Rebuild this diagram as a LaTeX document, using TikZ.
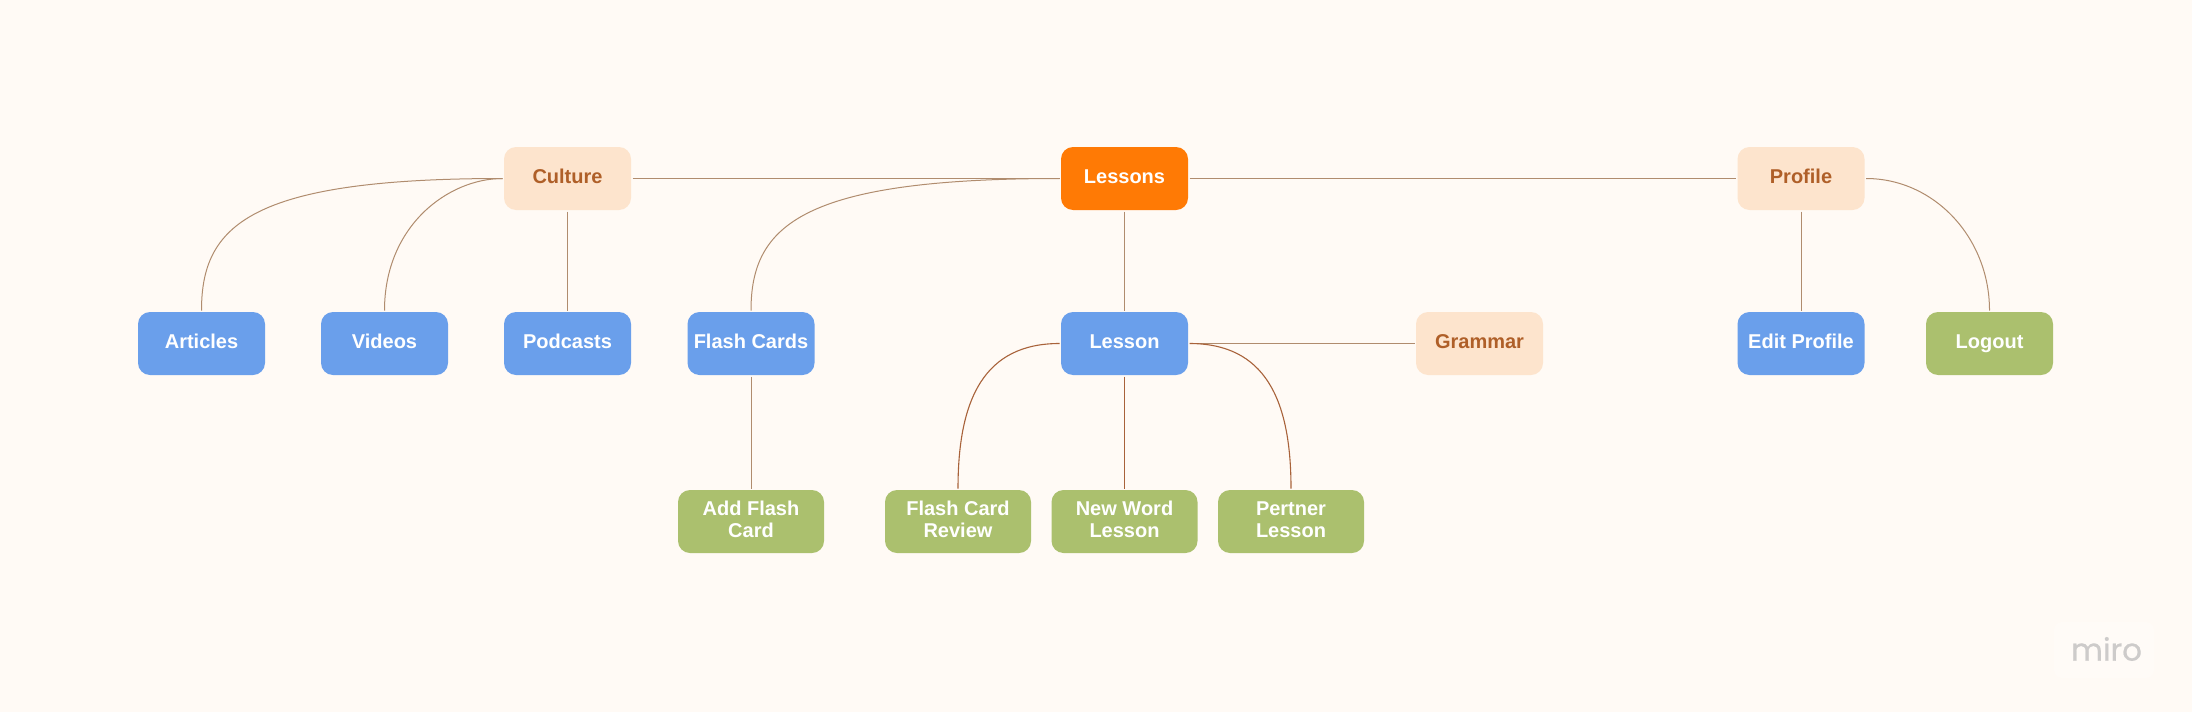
\documentclass[tikz,border=0pt]{standalone}
\usepackage{fontspec}
\setmainfont{Liberation Sans}
\newfontfamily\mirofont[FakeBold=0.6]{Poppins}
\definecolor{bgc}{HTML}{FFFAF5}
\definecolor{bluec}{HTML}{6A9FEB}
\definecolor{peachc}{HTML}{FDE4CD}
\definecolor{orangec}{HTML}{FF7A05}
\definecolor{greenc}{HTML}{ABC06E}
\definecolor{brownc}{HTML}{AF5F28}
\definecolor{linec}{HTML}{B08C6E}
\definecolor{darkline}{HTML}{A8623A}
\definecolor{miroc}{HTML}{CDCBCA}
\definecolor{miropad}{HTML}{FFFBF7}
\tikzset{
 box/.style={rounded corners=12pt,minimum width=127pt,minimum height=63pt,inner sep=0pt,outer sep=1.5pt,align=center,
   text height=15pt,text depth=6pt,font=\fontsize{20}{22}\selectfont\bfseries,text=white},
 bluebox/.style={box,fill=bluec},
 peachbox/.style={box,fill=peachc,text=brownc},
 orangebox/.style={box,fill=orangec},
 greenbox/.style={box,fill=greenc},
 widebox/.style={greenbox,minimum width=146pt,text height=37pt,text depth=4.6pt},
 conn/.style={draw=linec,line width=1pt},
 darkconn/.style={draw=darkline,line width=1.1pt}
}
\begin{document}
\begin{tikzpicture}[x=1pt,y=-1pt]
\path[fill=bgc] (0,0) rectangle (2192,712);
\useasboundingbox (0,0) rectangle (2192,712);
\node[peachbox] (culture) at (567.5,178.5) {Culture};
\node[orangebox] (lessons) at (1124.5,178.5) {Lessons};
\node[peachbox] (profile) at (1801,178.5) {Profile};
\node[bluebox] (articles) at (201.5,343.5) {Articles};
\node[bluebox] (videos) at (384.5,343.5) {Videos};
\node[bluebox] (podcasts) at (567.5,343.5) {Podcasts};
\node[bluebox] (flash) at (751,343.5) {Flash Cards};
\node[bluebox] (lesson) at (1124.5,343.5) {Lesson};
\node[peachbox] (grammar) at (1479.5,343.5) {Grammar};
\node[bluebox] (edit) at (1801,343.5) {Edit Profile};
\node[greenbox] (logout) at (1989.5,343.5) {Logout};
\node[widebox] (addflash) at (751,521.5) {Add Flash\\Card};
\node[widebox] (review) at (958,521.5) {Flash Card\\Review};
\node[widebox] (newword) at (1124.5,521.5) {New Word\\Lesson};
\node[widebox] (pertner) at (1291,521.5) {Pertner\\Lesson};
\path[fill=miropad,rounded corners=8pt] (2054,622) rectangle (2154,678);
\node[font=\mirofont\fontsize{31}{31}\selectfont,text=miroc,inner sep=0pt] (miro) at (2106.5,649) {miro};
\draw[conn] (culture.east) -- (lessons.west);
\draw[conn] (lessons.east) -- (profile.west);
\draw[conn] (culture.south) -- (podcasts.north);
\draw[conn] (lessons.south) -- (lesson.north);
\draw[conn] (flash.south) -- (addflash.north);
\draw[conn] (profile.south) -- (edit.north);
\draw[conn] (lesson.east) -- (grammar.west);
\draw[conn] (articles.north) .. controls +(0,-85) and +(-253,0) .. (culture.west);
\draw[conn] (videos.north) .. controls +(0,-85) and +(-54,0) .. (culture.west);
\draw[conn] (flash.north) .. controls +(0,-85) and +(-258,0) .. (lessons.west);
\draw[conn] (profile.east) .. controls +(68,0) and +(0,-73) .. (logout.north);
\draw[darkconn] (lesson.south) -- (newword.north);
\draw[darkconn] (review.north) .. controls +(0,-90) and +(-75,0) .. (lesson.west);
\draw[darkconn] (lesson.east) .. controls +(75,0) and +(0,-90) .. (pertner.north);
\end{tikzpicture}
\end{document}
